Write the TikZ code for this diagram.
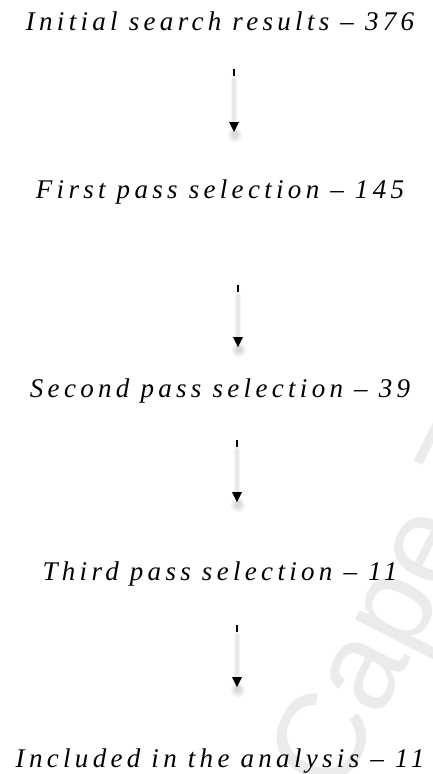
\documentclass[tikz,border=0pt]{standalone}
\usepackage{fontspec}
\setmainfont{Liberation Serif}
\newfontfamily\stagefont[LetterSpace=16]{Liberation Serif}
\newfontfamily\markfont{Liberation Sans}

\tikzset{
  stage/.style={font=\stagefont\itshape\fontsize{27}{31}\selectfont, inner sep=0pt, anchor=base},
  tick/.style={line width=1.6pt, black},
  haze/.style={line width=#1, black, opacity=0.045, line cap=round},
  headfill/.style={fill=black},
  headshade/.style={fill=black, opacity=0.05},
  wmark/.style={text=black!8, font=\markfont\fontsize{125}{125}\selectfont, inner sep=0pt}
}

% A downward arrow: short black tick at the top, soft grey shaft, solid head
\newcommand{\flowarrow}[2]{%
  \draw[haze=6pt] ($(#1)+(0,10)$) -- ($(#2)+(0,-6)$);
  \draw[haze=3.5pt] ($(#1)+(0,10)$) -- ($(#2)+(0,-6)$);
  \fill[headshade] ($(#2)+(1,3)$) circle (7pt);
  \fill[headshade] ($(#2)+(1,3)$) circle (5pt);
  \fill[headshade] ($(#2)+(1,2)$) circle (3.5pt);
  \draw[tick] (#1) -- ++(0,7);
  \fill[headfill] (#2) -- ++(-5,-10) -- ++(10,0) -- cycle;
}

\begin{document}
\begin{tikzpicture}[x=1pt, y=-1pt]
\usetikzlibrary{calc}
\useasboundingbox (0,0) rectangle (433,774);

% faint watermark in the lower right corner
\begin{scope}
  \clip (0,0) rectangle (433,774);
  \node[wmark, rotate=63, anchor=base west] (wm) at (338,800) {Cape Town};
\end{scope}

% stage labels
\node[stage] (s1) at (220,30)  {Initial search results – 376};
\node[stage] (s2) at (220,198) {First pass selection – 145};
\node[stage] (s3) at (220,397) {Second pass selection – 39};
\node[stage] (s4) at (220,580) {Third pass selection – 11};
\node[stage] (s5) at (220,767) {Included in the analysis – 11};

% arrow end points
\coordinate (a1s) at (234,69);  \coordinate (a1e) at (234,132);
\coordinate (a2s) at (238,285); \coordinate (a2e) at (238,347);
\coordinate (a3s) at (237,440); \coordinate (a3e) at (237,502);
\coordinate (a4s) at (237,625); \coordinate (a4e) at (237,687);

\flowarrow{a1s}{a1e}
\flowarrow{a2s}{a2e}
\flowarrow{a3s}{a3e}
\flowarrow{a4s}{a4e}
\end{tikzpicture}
\end{document}
